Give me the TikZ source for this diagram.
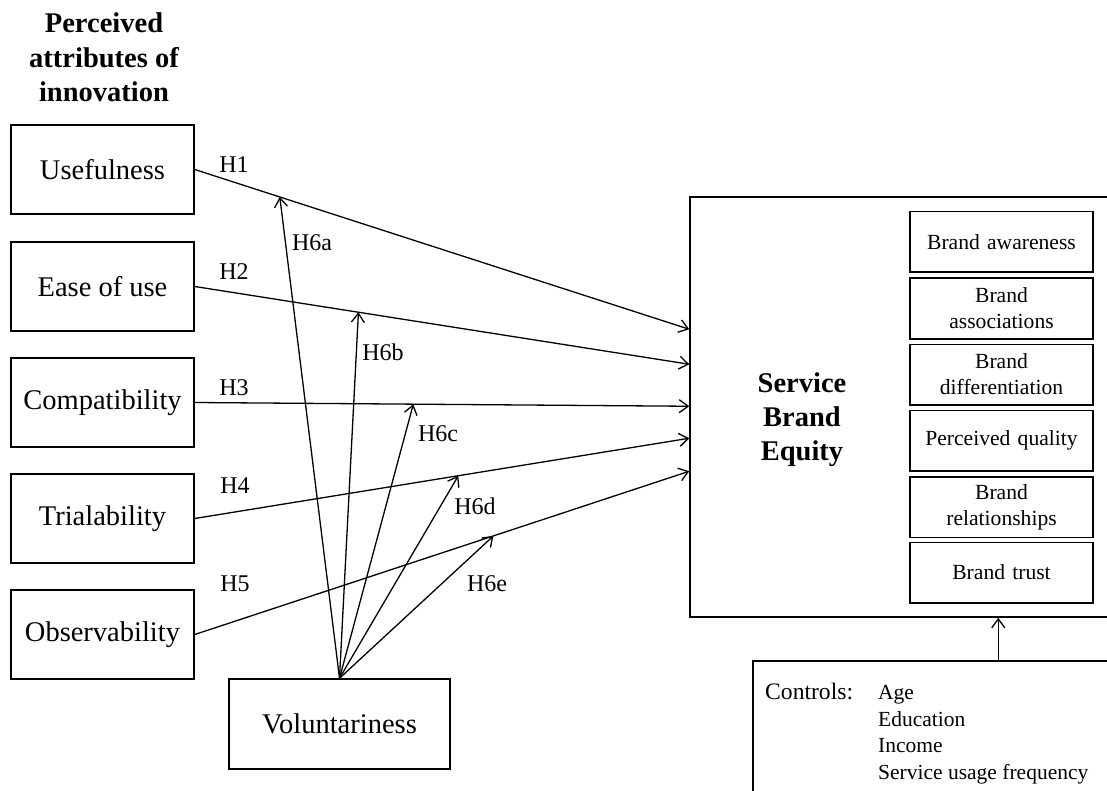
\documentclass[tikz,border=0pt]{standalone}
\usepackage{fontspec}
\setmainfont{Liberation Serif}
\usetikzlibrary{arrows.meta,calc}
\tikzset{
  box/.style={draw, line width=1.5pt, rectangle, inner sep=0pt, align=center},
  leftbox/.style={box, minimum width=183pt, minimum height=89pt, font=\fontsize{28.5}{34}\selectfont},
  brandbox/.style={box, minimum width=183pt, minimum height=60.5pt, text width=180pt, font=\fontsize{21.6}{26}\selectfont},
  arr/.style={-{Straight Barb[length=9pt,width=13pt]}, line width=1.3pt},
  hlab/.style={inner sep=0pt, font=\fontsize{24}{28}\selectfont},
  title/.style={inner sep=0pt, anchor=base, font=\bfseries\fontsize{28.5}{34}\selectfont},
  ctext/.style={inner sep=0pt, anchor=base west, font=\fontsize{21.5}{26}\selectfont}
}
\begin{document}
\begin{tikzpicture}[x=1pt,y=-1pt]
\useasboundingbox (0,0) rectangle (1107,791);
\clip (0,0) rectangle (1107,791);
\fill[white] (0,0) rectangle (1107,791);
% title
\node[title] (t1) at (104,33) {Perceived};
\node[title] (t2) at (104,68) {attributes of};
\node[title] (t3) at (104,102) {innovation};
% left boxes
\node[leftbox] (use) at (102.5,169.5) {Usefulness};
\node[leftbox] (ease) at (102.5,286.5) {Ease of use};
\node[leftbox] (comp) at (102.5,402.5) {Compatibility};
\node[leftbox] (trial) at (102.5,518.5) {Trialability};
\node[leftbox] (obs) at (102.5,634.5) {Observability};
% voluntariness
\node[box, minimum width=221pt, minimum height=90pt, font=\fontsize{28.5}{34}\selectfont] (vol) at (339.5,724) {Voluntariness};
% SBE
\node[box, minimum width=440pt, minimum height=420pt] (sbe) at (910,407) {};
\node[title] (s1) at (802,392) {Service};
\node[title] (s2) at (802,426) {Brand};
\node[title] (s3) at (802,460) {Equity};
\node[brandbox] (b1) at (1001.5,242) {Brand awareness};
\node[brandbox] (b2) at (1001.5,308.5) {Brand\\associations};
\node[brandbox] (b3) at (1001.5,374.5) {Brand\\differentiation};
\node[brandbox] (b4) at (1001.5,440.5) {Perceived quality};
\node[brandbox] (b5) at (1001.5,507) {Brand\\relationships};
\node[brandbox] (b6) at (1001.5,572.5) {Brand trust};
% controls
\node[box, minimum width=377pt, minimum height=159pt] (ctl) at (941.5,740.5) {};
\node[inner sep=0pt, anchor=base west, font=\fontsize{23.6}{26}\selectfont] (cl) at (765,699) {Controls:};
\node[ctext] (c1) at (878,699) {Age};
\node[ctext] (c2) at (878,726) {Education};
\node[ctext] (c3) at (878,752.5) {Income};
\node[ctext] (c4) at (878,779) {Service usage frequency};
% entry points on SBE
\coordinate (in1) at ($(sbe.north west)+(0,133)$);
\coordinate (in2) at ($(sbe.north west)+(0,168)$);
\coordinate (in3) at ($(sbe.north west)+(0,210)$);
\coordinate (in4) at ($(sbe.north west)+(0,242)$);
\coordinate (in5) at ($(sbe.north west)+(0,275)$);
% H arrows
\draw[arr] (use.east) -- coordinate[pos=0.172] (m1) (in1);
\draw[arr] (ease.east) -- coordinate[pos=0.331] (m2) (in2);
\draw[arr] (comp.east) -- coordinate[pos=0.442] (m3) (in3);
\draw[arr] (trial.east) -- coordinate[pos=0.533] (m4) (in4);
\draw[arr] (obs.east) -- coordinate[pos=0.604] (m5) (in5);
% H6 arrows
\draw[arr] (vol.north) -- (m1);
\draw[arr] (vol.north) -- (m2);
\draw[arr] (vol.north) -- (m3);
\draw[arr] (vol.north) -- (m4);
\draw[arr] (vol.north) -- (m5);
% controls arrow
\coordinate (ca) at ($(ctl.north west)+(246,0)$);
\coordinate (cb) at ($(sbe.south west)+(309,0)$);
\draw[arr] (ca) -- (cb);
% labels
\node[hlab] (h1) at (234,165) {H1};
\node[hlab] (h2) at (234,272) {H2};
\node[hlab] (h3) at (234,388) {H3};
\node[hlab] (h4) at (235,486) {H4};
\node[hlab] (h5) at (235,584) {H5};
\node[hlab] (h6a) at (312,243) {H6a};
\node[hlab] (h6b) at (383,352) {H6b};
\node[hlab] (h6c) at (438,434) {H6c};
\node[hlab] (h6d) at (475,506) {H6d};
\node[hlab] (h6e) at (487,584) {H6e};
\end{tikzpicture}
\end{document}
